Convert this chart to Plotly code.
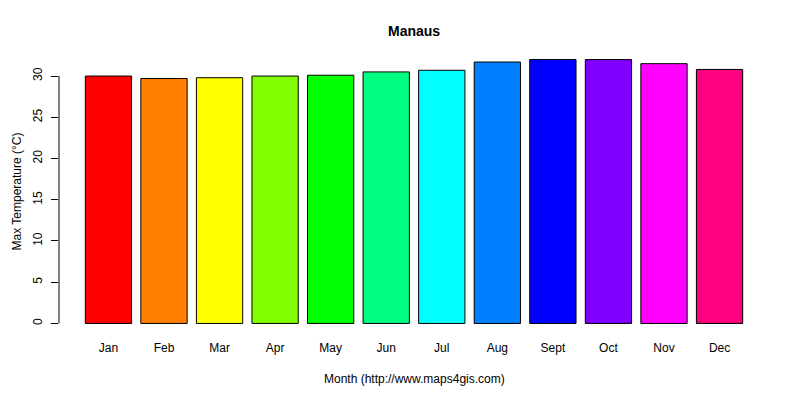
"""Max temperature per month for Manaus, R barplot look-alike."""

import plotly.graph_objects as go

MONTHS = ["Jan", "Feb", "Mar", "Apr", "May", "Jun",
          "Jul", "Aug", "Sept", "Oct", "Nov", "Dec"]
MAX_TEMP = [30.0, 29.7, 29.8, 30.0, 30.1, 30.5,
            30.7, 31.7, 32.0, 32.0, 31.5, 30.8]
BAR_COLORS = ["#FF0000", "#FF8000", "#FFFF00", "#80FF00", "#00FF00", "#00FF80",
              "#00FFFF", "#0080FF", "#0000FF", "#8000FF", "#FF00FF", "#FF0080"]
Y_TICKS = [0, 5, 10, 15, 20, 25, 30]

FONT = "Liberation Sans, Arial, sans-serif"

# barplot positions: width 1, space 0.2
positions = [0.7 + 1.2 * i for i in range(len(MONTHS))]

fig = go.Figure(
    go.Bar(
        x=positions,
        y=MAX_TEMP,
        width=1,
        marker=dict(color=BAR_COLORS, line=dict(color="black", width=1)),
        hoverinfo="x+y",
    )
)

# y axis line only spans the tick range, like R's axis()
fig.add_shape(
    type="line", xref="paper", yref="y",
    x0=0, x1=0, y0=Y_TICKS[0], y1=Y_TICKS[-1],
    line=dict(color="black", width=1),
)

# titles as annotations so they sit where R puts them
fig.add_annotation(
    text="<b>Manaus</b>", xref="paper", yref="paper", x=0.5, y=1,
    yanchor="middle", yshift=18, showarrow=False, font=dict(size=14),
)
fig.add_annotation(
    text="Month (http://www.maps4gis.com)", xref="paper", yref="paper",
    x=0.5, y=0, yanchor="middle", yshift=-44.5, showarrow=False,
)
fig.add_annotation(
    text="Max Temperature (°C)", xref="paper", yref="paper",
    x=0, y=0.5, xanchor="center", yanchor="middle", xshift=-43,
    textangle=-90, showarrow=False,
)

# page body adds 8px offset, so margins are shifted up/left by 8
fig.update_layout(
    width=800,
    height=400,
    plot_bgcolor="white",
    paper_bgcolor="white",
    font=dict(family=FONT, size=12, color="black"),
    showlegend=False,
    margin=dict(l=51, r=39, t=41, b=74, autoexpand=False),
    xaxis=dict(
        range=[-0.368, 14.968],
        tickvals=positions,
        ticktext=MONTHS,
        ticks="",
        showgrid=False,
        zeroline=False,
        showline=False,
        automargin=False,
        ticklabelstandoff=5,
    ),
    yaxis=dict(
        range=[-1.28, 33.28],
        tickvals=Y_TICKS,
        tickangle=-90,
        ticks="outside",
        ticklen=7,
        tickcolor="black",
        showgrid=False,
        zeroline=False,
        showline=False,
        automargin=False,
        ticklabelstandoff=4,
    ),
)

fig.write_html("out.html")
